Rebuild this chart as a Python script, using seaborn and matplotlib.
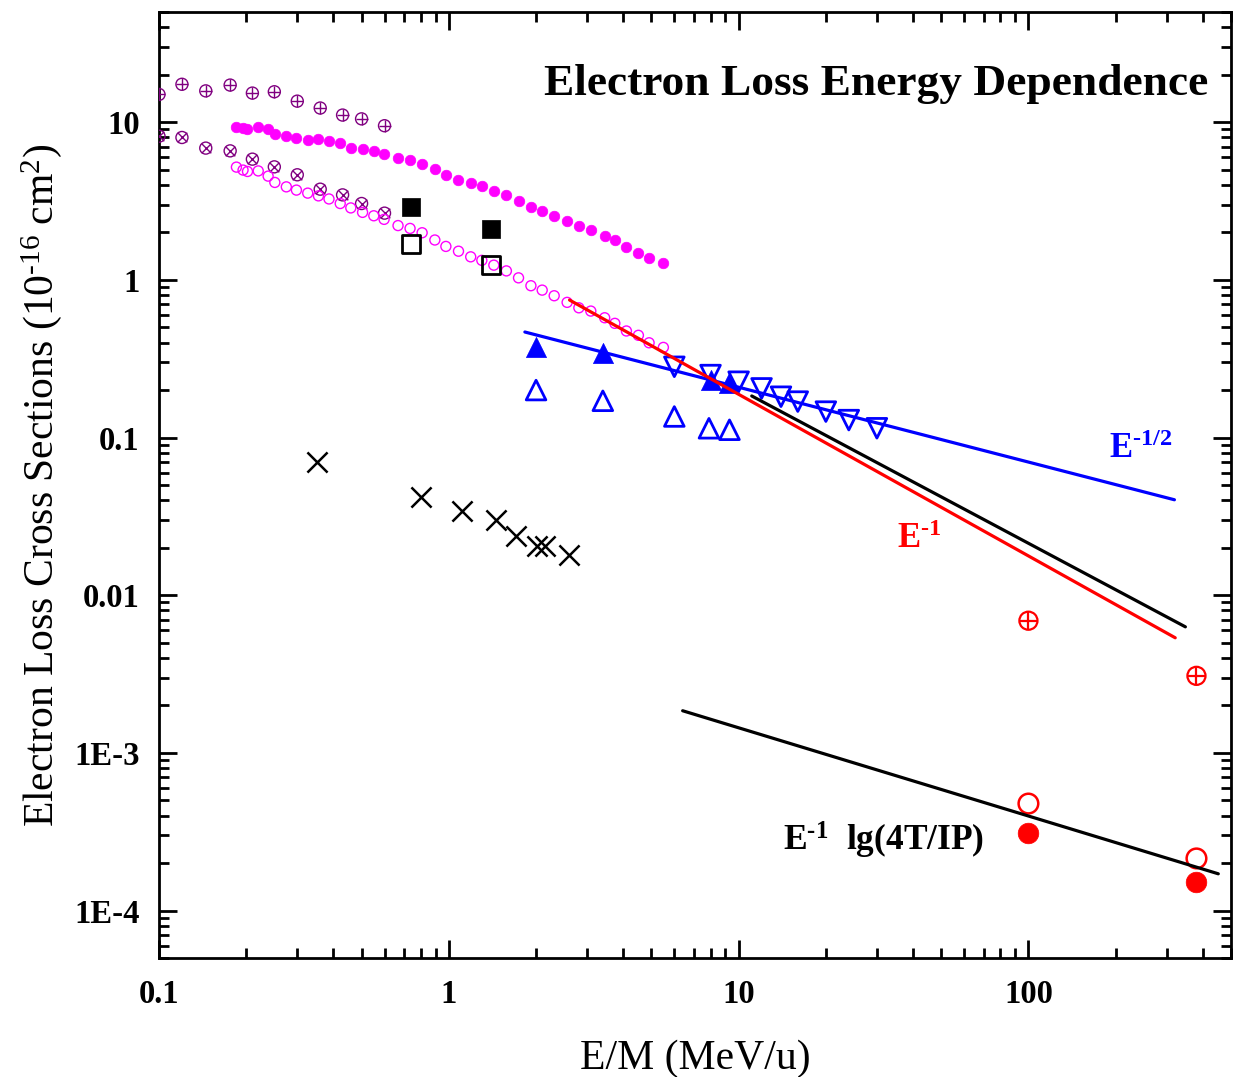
import numpy as np
import pandas as pd
import matplotlib
matplotlib.use("Agg")
import matplotlib.pyplot as plt
import seaborn as sns
from matplotlib.ticker import LogLocator, NullFormatter, FixedLocator, FixedFormatter

# ---------------- data ----------------
purple_x = [0.10, 0.12, 0.145, 0.176, 0.21, 0.25, 0.30, 0.36, 0.43, 0.50, 0.60]
purple_plus_y = [15.0, 17.4, 15.8, 17.2, 15.3, 15.6, 13.6, 12.3, 11.1, 10.5, 9.5]
purple_cross_y = [8.15, 8.0, 6.85, 6.58, 5.83, 5.21, 4.64, 3.76, 3.46, 3.05, 2.65]

magenta_x = [0.185, 0.195, 0.202, 0.22, 0.238, 0.251, 0.275, 0.298, 0.326, 0.355,
             0.386, 0.422, 0.459, 0.504, 0.551, 0.598, 0.668, 0.735, 0.809, 0.895,
             0.977, 1.08, 1.19, 1.30, 1.43, 1.58, 1.74, 1.92, 2.10, 2.31,
             2.56, 2.81, 3.09, 3.45, 3.74, 4.10, 4.51, 4.91, 5.50]
magenta_filled_y = [9.34, 9.2, 9.12, 9.39, 9.0, 8.36, 8.12, 7.95, 7.76, 7.80,
                    7.61, 7.43, 6.91, 6.77, 6.52, 6.27, 5.91, 5.77, 5.44, 5.06,
                    4.61, 4.29, 4.09, 3.95, 3.67, 3.45, 3.17, 2.90, 2.73, 2.55,
                    2.36, 2.21, 2.07, 1.90, 1.78, 1.62, 1.48, 1.37, 1.28]
magenta_open_y = [5.19, 4.97, 4.87, 4.91, 4.55, 4.15, 3.89, 3.71, 3.55, 3.41,
                  3.26, 3.05, 2.86, 2.68, 2.55, 2.42, 2.21, 2.12, 1.99, 1.79,
                  1.63, 1.52, 1.40, 1.33, 1.24, 1.14, 1.03, 0.918, 0.861, 0.793,
                  0.72, 0.665, 0.634, 0.575, 0.53, 0.474, 0.445, 0.399, 0.373]

square_x = [0.74, 1.40]
square_filled_y = [2.89, 2.10]
square_open_y = [1.69, 1.24]

up_filled_x = [2.0, 3.4, 8.0, 9.3]
up_filled_y = [0.377, 0.342, 0.232, 0.221]
up_open_x = [2.0, 3.4, 6.0, 7.9, 9.3]
up_open_y = [0.200, 0.171, 0.136, 0.1145, 0.112]
down_x = [6, 8, 10, 12, 14, 16, 20, 24, 30]
down_y = [0.281, 0.249, 0.226, 0.205, 0.1815, 0.169, 0.146, 0.129, 0.1145]

cross_x = [0.351, 0.80, 1.11, 1.45, 1.70, 2.01, 2.14, 2.60]
cross_y = [0.0704, 0.0422, 0.0342, 0.0301, 0.0236, 0.0206, 0.0204, 0.0180]

red_x = [100, 380]
red_plus_y = [0.00689, 0.00308]
red_open_y = [4.77e-4, 2.14e-4]
red_filled_y = [3.12e-4, 1.51e-4]

blue_line_x = [1.83, 319]
blue_line_y = [0.467, 0.0403]
red_line_x = [2.61, 321]
red_line_y = [0.745, 0.00537]
black_line_x = [11.1, 348]
black_line_y = [0.1835, 0.0063]
black_low_x = [6.41, 452]
black_low_y = [0.00185, 1.71e-4]

xticks = [0.1, 1, 10, 100]
xticklabels = ["0.1", "1", "10", "100"]
yticks = [1e-4, 1e-3, 0.01, 0.1, 1, 10]
yticklabels = ["1E-4", "1E-3", "0.01", "0.1", "1", "10"]

# ---------------- style ----------------
sns.set_style("ticks")
plt.rcParams['font.family'] = ['Liberation Serif', 'DejaVu Serif']
plt.rcParams['mathtext.fontset'] = 'custom'
plt.rcParams['mathtext.rm'] = 'Liberation Serif'
plt.rcParams['mathtext.it'] = 'Liberation Serif:italic'
plt.rcParams['mathtext.bf'] = 'Liberation Serif:bold'
for k in ['text.color', 'axes.labelcolor', 'xtick.color', 'ytick.color', 'axes.edgecolor']:
    plt.rcParams[k] = 'black'

MAG = '#FF00FF'
PUR = '#800080'
BLUE = '#0000FF'
RED = '#FF0000'
HY = '\u2010'  # short hyphen used in the superscripts

fig = plt.figure(figsize=(12.34, 10.77), dpi=100)
ax = fig.add_axes([159 / 1234, 1 - 958 / 1077, (1231 - 159) / 1234, (958 - 12) / 1077])
ax.set_xscale('log')
ax.set_yscale('log')


def open_pts(x, y, marker, s, color, lw):
    sns.scatterplot(x=x, y=y, marker=marker, s=s, color=color,
                    facecolor='none', edgecolor=color, linewidth=lw, ax=ax, zorder=3)


def filled_pts(x, y, marker, s, color):
    sns.scatterplot(x=x, y=y, marker=marker, s=s, color=color,
                    edgecolor=color, linewidth=0.5, ax=ax, zorder=3)


def line_pts(x, y, marker, s, color, lw):
    sns.scatterplot(x=x, y=y, marker=marker, s=s, color=color,
                    linewidth=lw, ax=ax, zorder=3)


# purple circle-plus and circle-cross
open_pts(purple_x, purple_plus_y, 'o', 75, PUR, 1.0)
line_pts(purple_x, purple_plus_y, '+', 75, PUR, 1.0)
open_pts(purple_x, purple_cross_y, 'o', 75, PUR, 1.0)
line_pts(purple_x, purple_cross_y, 'x', 48, PUR, 1.0)

# magenta
filled_pts(magenta_x, magenta_filled_y, 'o', 58, MAG)
open_pts(magenta_x, magenta_open_y, 'o', 52, MAG, 1.0)

# squares
filled_pts(square_x, square_filled_y, 's', 180, 'black')
open_pts(square_x, square_open_y, 's', 160, 'black', 2.0)

# crosses
line_pts(cross_x, cross_y, 'x', 210, 'black', 1.8)

# blue triangles
filled_pts(up_filled_x, up_filled_y, '^', 210, BLUE)
open_pts(up_open_x, up_open_y, '^', 200, BLUE, 2.0)
open_pts(down_x, down_y, 'v', 200, BLUE, 2.0)

# red points
open_pts(red_x, red_plus_y, 'o', 170, RED, 1.6)
line_pts(red_x, red_plus_y, '+', 170, RED, 1.6)
open_pts(red_x, red_open_y, 'o', 200, RED, 1.8)
filled_pts(red_x, red_filled_y, 'o', 220, RED)

# lines
for lx, ly, c in [(blue_line_x, blue_line_y, BLUE),
                  (red_line_x, red_line_y, RED),
                  (black_line_x, black_line_y, 'black'),
                  (black_low_x, black_low_y, 'black')]:
    sns.lineplot(x=lx, y=ly, color=c, linewidth=2.3, estimator=None, sort=False,
                 ax=ax, zorder=4)

ax.set_xlim(0.1, 500)
ax.set_ylim(5e-5, 50)

ax.xaxis.set_major_locator(FixedLocator(xticks))
ax.xaxis.set_major_formatter(FixedFormatter(xticklabels))
ax.yaxis.set_major_locator(FixedLocator(yticks))
ax.yaxis.set_major_formatter(FixedFormatter(yticklabels))
ax.xaxis.set_minor_locator(LogLocator(base=10, subs=np.arange(2, 10), numticks=100))
ax.yaxis.set_minor_locator(LogLocator(base=10, subs=np.arange(2, 10), numticks=100))
ax.xaxis.set_minor_formatter(NullFormatter())
ax.yaxis.set_minor_formatter(NullFormatter())

ax.tick_params(which='both', direction='in', top=True, right=True, width=2.0, color='black')
ax.tick_params(which='major', length=13, labelsize=23.5)
ax.tick_params(axis='x', which='major', pad=15)
ax.tick_params(axis='y', which='major', pad=14)
ax.tick_params(which='minor', length=7.5)
for lab in ax.get_xticklabels() + ax.get_yticklabels():
    lab.set_fontweight('bold')
for sp in ax.spines.values():
    sp.set_linewidth(2.0)
    sp.set_color('black')

ax.set_xlabel('E/M (MeV/u)', fontsize=30, labelpad=21)
ax.set_ylabel(r'Electron Loss Cross Sections ($\mathregular{10^{' + HY + r'16}\ cm^{2}}$)',
              fontsize=30, labelpad=7)

ax.text(0.9785, 0.912, 'Electron Loss Energy Dependence', transform=ax.transAxes,
        ha='right', va='baseline', fontsize=32.7, fontweight='bold')
ax.text(190, 0.0743, r'$\mathbf{E^{' + HY + r'1/2}}$', color=BLUE, fontsize=25,
        ha='left', va='baseline')
ax.text(35.3, 0.0200, r'$\mathbf{E^{' + HY + r'1}}$', color=RED, fontsize=25,
        ha='left', va='baseline')
ax.text(14.2, 2.40e-4, r'$\mathbf{E^{' + HY + r'1}}$  lg(4T/IP)', color='black', fontsize=25.5,
        fontweight='bold', ha='left', va='baseline')

fig.savefig('out.png', dpi=100)
